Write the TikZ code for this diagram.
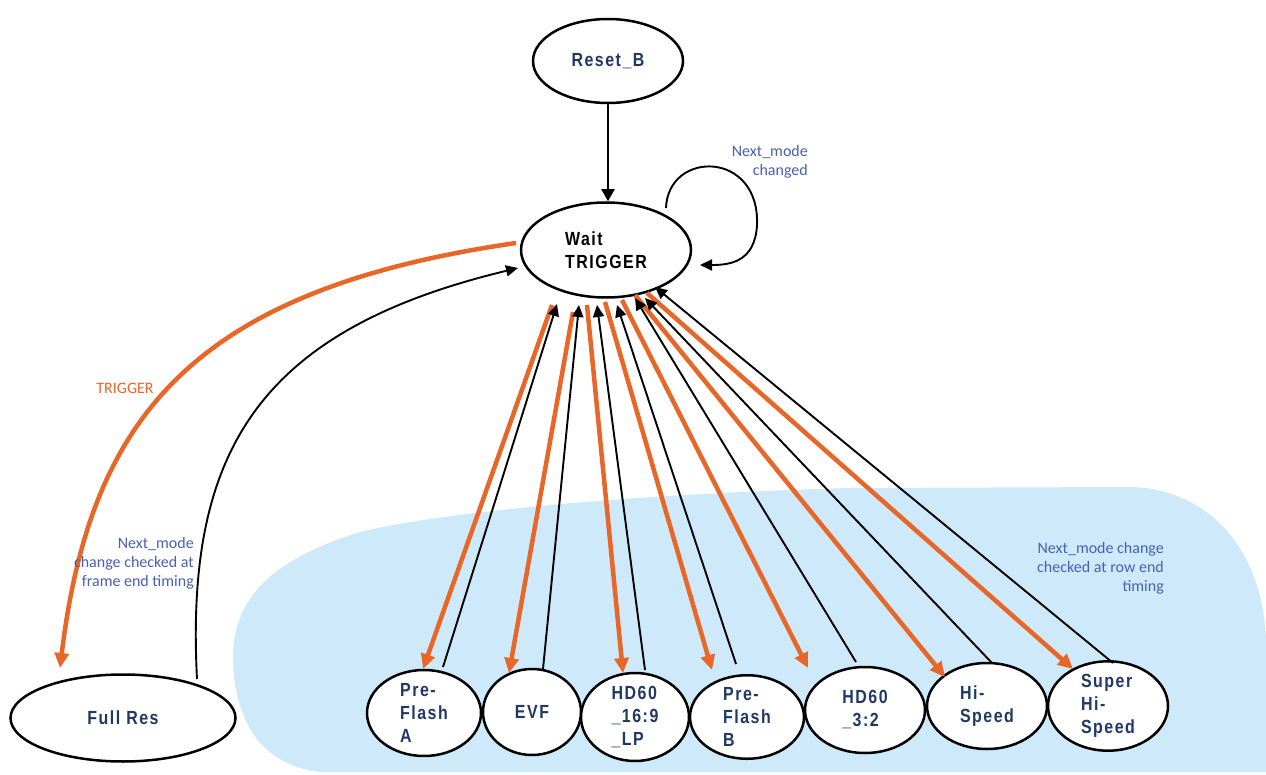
\documentclass[tikz,border=0pt]{standalone}
\usepackage{fontspec}
\usetikzlibrary{arrows.meta,calc,shapes.geometric}
\newfontfamily\statefont{Liberation Sans}[FakeStretch=0.84,LetterSpace=8]
\newfontfamily\notefont{Carlito}
\definecolor{navy}{RGB}{31,56,100}
\definecolor{noteblue}{RGB}{72,96,180}
\definecolor{trig}{RGB}{232,102,40}
\definecolor{zone}{RGB}{206,234,250}
\begin{document}
\begin{tikzpicture}[x=1pt,y=-1pt,
  state/.style={ellipse, draw=black, line width=2.5pt, fill=white, inner sep=0pt,
    align=left, text=navy, font=\statefont\bfseries\fontsize{19}{23}\selectfont},
  note/.style={inner sep=0pt, align=right, text=noteblue,
    font=\notefont\fontsize{16}{19}\selectfont},
  flow/.style={draw=black, line width=1.9pt, -{Triangle[length=12pt,width=11pt]}},
  trigflow/.style={draw=trig, line width=4.5pt, -{Triangle[length=15pt,width=14pt]}}]
\useasboundingbox (0,0) rectangle (1266,775);

% row-end timing zone
\fill[zone] (320,772) .. controls (260,765) and (236,720) .. (233,665)
  .. controls (230,600) and (270,560) .. (360,532)
  .. controls (430,515) and (600,495) .. (850,488) -- (1130,487)
  .. controls (1200,488) and (1262,540) .. (1266,640) -- (1266,772) -- cycle;

% states
\node[state, minimum width=150pt, minimum height=84pt] (reset) at (608,61) {Reset\_B};
\node[state, minimum width=170pt, minimum height=95pt, text=black] (wait) at (606,250) {Wait\\TRIGGER};
\node[state, minimum width=225pt, minimum height=87pt] (fullres) at (123,718) {Full Res};
\node[state, minimum width=114pt, minimum height=86pt] (pfa) at (424,713) {Pre-\\Flash\\A};
\node[state, minimum width=98pt, minimum height=86pt] (evf) at (532,712) {EVF};
\node[state, minimum width=108pt, minimum height=88pt] (hdlp) at (635,717) {HD60\\\_16:9\\\_LP};
\node[state, minimum width=114pt, minimum height=80pt] (pfb) at (747,717) {Pre-\\Flash\\B};
\node[state, minimum width=120pt, minimum height=86pt] (hdtt) at (865,710) {HD60\\\_3:2};
\node[state, minimum width=120pt, minimum height=86pt] (hisp) at (987,706) {Hi-\\Speed};
\node[state, minimum width=120pt, minimum height=86pt] (super) at (1108,706) {Super\\Hi-\\Speed};

% reset and self loop
\draw[flow, -{Triangle[length=12pt,width=13pt]}] (reset.south) -- (reset.south |- wait.north);
\draw[flow] ($(wait)+(60,-42)$) .. controls (668,150) and (760,150) .. (757,225)
  .. controls (755,262) and (730,265) .. ($(wait)+(94,15)$);

% frame-end mode
\draw[trigflow] ($(wait)+(-90,-7)$) .. controls (190,290) and (90,420) .. ($(fullres)+(-63,-50)$);
\draw[flow] ($(fullres)+(74,-39)$) .. controls (185,450) and (260,330) .. ($(wait)+(-88,18)$);

% row-end modes: TRIGGER out
\draw[trigflow] ($(wait)+(-54,55)$) -- ($(pfa)+(-1,-44)$);
\draw[trigflow] ($(wait)+(-33,62)$) -- ($(evf)+(-23,-39)$);
\draw[trigflow] ($(wait)+(-19,55)$) -- ($(hdlp)+(-12,-44)$);
\draw[trigflow] ($(wait)+(-1,52)$) -- ($(pfb)+(-35,-47)$);
\draw[trigflow] ($(wait)+(16,50)$) -- ($(hdtt)+(-57,-42)$);
\draw[trigflow] ($(wait)+(29,45)$) -- ($(hisp)+(-42,-29)$);
\draw[trigflow] ($(wait)+(41,43)$) -- ($(super)+(-35,-37)$);

% row-end modes: back to wait
\draw[flow] ($(pfa)+(19,-46)$) -- ($(wait)+(-49,54)$);
\draw[flow] ($(evf)+(11,-43)$) -- ($(wait)+(-27,55)$);
\draw[flow] ($(hdlp)+(10,-47)$) -- ($(wait)+(-9,55)$);
\draw[flow] ($(pfb)+(-11,-53)$) -- ($(wait)+(11,55)$);
\draw[flow] ($(hdtt)+(-9,-48)$) -- ($(wait)+(29,48)$);
\draw[flow] ($(hisp)+(5,-43)$) -- ($(wait)+(39,48)$);
\draw[flow] ($(super)+(5,-43)$) -- ($(wait)+(49,37)$);

% annotations
\node[note, anchor=east] (loopnote) at (808,162) {Next\_mode\\changed};
\node[note, anchor=east] (framenote) at (194,563) {Next\_mode\\change checked at\\frame end timing};
\node[note, anchor=east] (rownote) at (1164,568) {Next\_mode change\\checked at row end\\timing};
\node[note, text=trig] (triglabel) at (125,388) {TRIGGER};
\end{tikzpicture}
\end{document}
